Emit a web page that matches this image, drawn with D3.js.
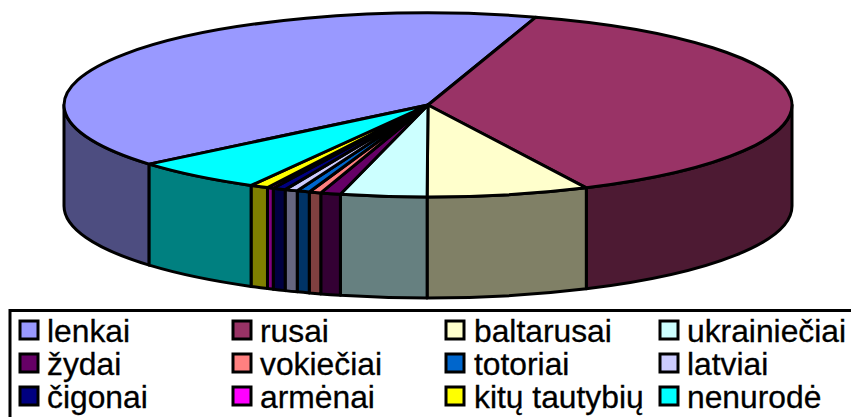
<!DOCTYPE html>
<html><head><meta charset="utf-8">
<script src="https://cdn.jsdelivr.net/npm/d3@7"></script>
<style>html,body{margin:0;padding:0;background:#fff;overflow:hidden}svg{display:block}text{font-family:"Liberation Sans",Arial,sans-serif}</style>
</head><body><svg id="c" width="851" height="417"></svg>
<script>
const categories = ["lenkai","rusai","baltarusai","ukrainiečiai","žydai","vokiečiai","totoriai","latviai","čigonai","armėnai","kitų tautybių","nenurodė"];
const values = [40.9,38.05,7.2,3.83,0.89,0.53,0.56,0.57,0.57,0.28,0.81,5.81];
const topColors = ["#9999FF","#993366","#FFFFCC","#CCFFFF","#660066","#FF8080","#0066CC","#CCCCFF","#000080","#FF00FF","#FFFF00","#00FFFF"];
const sideColors = ["#4D4D80","#4D1A33","#808066","#668080","#330033","#804040","#003366","#666680","#000040","#800080","#808000","#008080"];

const W=851,H=417,cx=428,cy=105,rx=364,ry=92,depth=101,sw=3;
const startDeg=-130;
const svg=d3.select("#c");
const slices=d3.pie().sort(null).value(d=>d).startAngle(startDeg*Math.PI/180).endAngle((startDeg+360)*Math.PI/180)(values);
const px=a=>cx+rx*Math.sin(a), py=a=>cy-ry*Math.cos(a);
const arcTo=(a0,a1,dy)=>{
  const large=Math.abs(a1-a0)>Math.PI?1:0, sweep=a1>a0?1:0;
  return `A${rx},${ry} 0 ${large} ${sweep} ${px(a1)},${py(a1)+dy}`;
};
const L=Math.PI/2,R=3*Math.PI/2,T=2*Math.PI;
function frontParts(s){
  const parts=[];
  for(const off of [-T,0,T]){
    const a=Math.max(s.startAngle+off,L), b=Math.min(s.endAngle+off,R);
    if(b>a) parts.push([a,b]);
  }
  return parts;
}
const sideData=[];
slices.forEach((s,i)=>frontParts(s).forEach(p=>sideData.push({i,a:p[0],b:p[1]})));
svg.append("g").selectAll("path").data(sideData).join("path")
  .attr("d",d=>`M${px(d.a)},${py(d.a)}`+arcTo(d.a,d.b,0)+`L${px(d.b)},${py(d.b)+depth}`+arcTo(d.b,d.a,depth)+"Z")
  .attr("fill",d=>sideColors[d.i]).attr("stroke","#000").attr("stroke-width",sw).attr("stroke-linejoin","round");
svg.append("g").selectAll("path").data(slices).join("path")
  .attr("d",s=>`M${cx},${cy}L${px(s.startAngle)},${py(s.startAngle)}`+arcTo(s.startAngle,s.endAngle,0)+"Z")
  .attr("fill",(s,i)=>topColors[i]).attr("stroke","#000").attr("stroke-width",sw).attr("stroke-linejoin","round");

// legend
svg.append("rect").attr("x",10).attr("y",310.5).attr("width",W+20).attr("height",H).attr("fill","#fff").attr("stroke","#000").attr("stroke-width",3);
const colX=[20,233,446,660], textX=[47,260,474,687], rowY=[321,354,387], baseY=[342,375,408];
const leg=svg.append("g").selectAll("g").data(categories).join("g");
leg.append("rect").attr("x",(d,i)=>colX[i%4]).attr("y",(d,i)=>rowY[Math.floor(i/4)]).attr("width",18).attr("height",18)
  .attr("fill",(d,i)=>topColors[i]).attr("stroke","#000").attr("stroke-width",3);
leg.append("text").attr("x",(d,i)=>textX[i%4]).attr("y",(d,i)=>baseY[Math.floor(i/4)]).attr("font-size",31.8).attr("fill","#000").attr("stroke","#000").attr("stroke-width",0.3).text(d=>d);
</script></body></html>
